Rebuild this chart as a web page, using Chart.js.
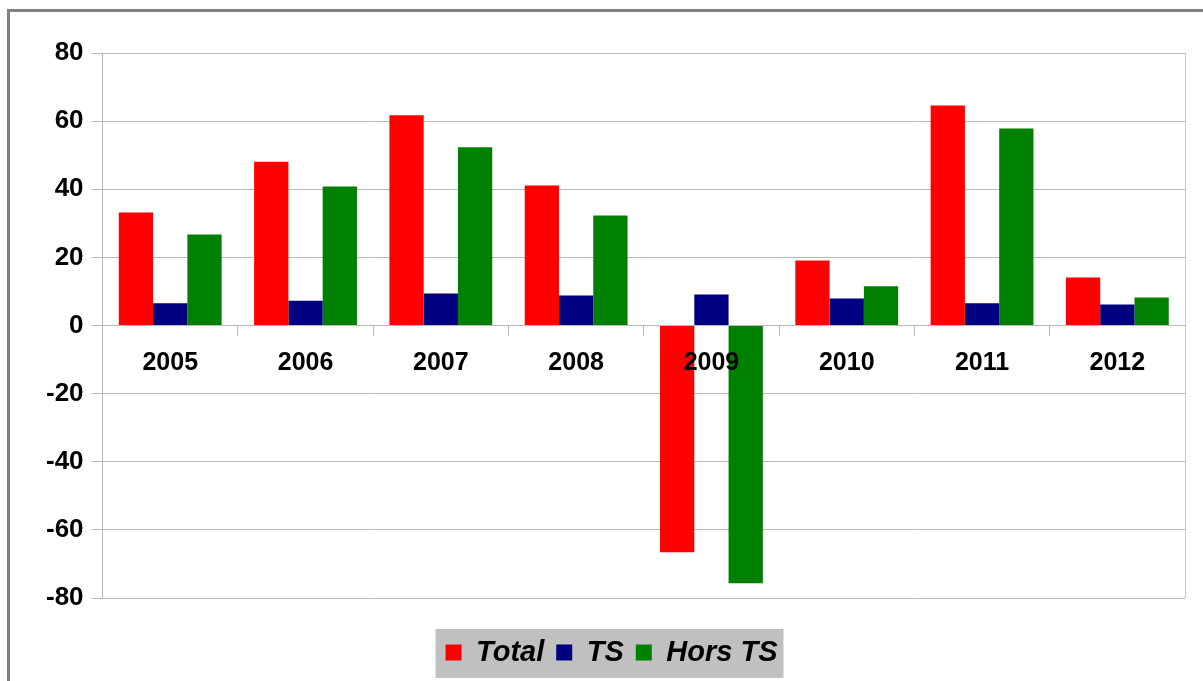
<!DOCTYPE html>
<html>
<head>
<meta charset="utf-8">
<script src="https://cdn.jsdelivr.net/npm/chart.js@4/dist/chart.umd.min.js"></script>
<style>
  html, body { margin: 0; padding: 0; background: #fff; overflow: hidden; }
  #frame {
    position: absolute; left: 7px; top: 9px; width: 1300px; height: 800px;
    border-left: 3px solid #808080; border-top: 3px solid #808080;
  }
  #wrap { position: absolute; left: 0; top: 0; width: 1203px; height: 681px; }
</style>
</head>
<body>
<div id="frame"></div>
<div id="wrap"><canvas id="chart"></canvas></div>
<script>
const years = ['2005', '2006', '2007', '2008', '2009', '2010', '2011', '2012'];
const total = [33.2, 48.1, 61.7, 41.1, -66.6, 19.1, 64.6, 14.1];
const ts = [6.5, 7.3, 9.4, 8.8, 9.1, 7.9, 6.5, 6.2];
const horsTs = [26.7, 40.8, 52.3, 32.3, -75.7, 11.5, 57.8, 8.2];

const gridColor = '#b8b8b8';
const fontFamily = "'Liberation Sans', Arial, sans-serif";

// fond gris derrière la légende + bord droit de la zone de tracé
const decor = {
    id: 'decor',
    beforeDraw(chart) {
        const boxes = chart.legend.legendHitBoxes;
        if (!boxes || !boxes.length) return;
        const ctx = chart.ctx;
        const first = boxes[0];
        const last = boxes[boxes.length - 1];
        ctx.save();
        ctx.fillStyle = '#c0c0c0';
        ctx.fillRect(first.left - 10, first.top - 9, last.left + last.width - first.left + 16, first.height + 20);
        ctx.restore();
    },
    beforeDatasetsDraw(chart) {
        const a = chart.chartArea;
        const ctx = chart.ctx;
        ctx.save();
        ctx.strokeStyle = '#c8c8c8';
        ctx.lineWidth = 1;
        ctx.beginPath();
        ctx.moveTo(Math.round(a.right) + 0.5, a.top);
        ctx.lineTo(Math.round(a.right) + 0.5, a.bottom);
        ctx.stroke();
        ctx.restore();
    }
};

const ctx = document.getElementById('chart').getContext('2d');
new Chart(ctx, {
    type: 'bar',
    data: {
        labels: years,
        datasets: [
            { label: 'Total', data: total, backgroundColor: '#ff0000', borderWidth: 0 },
            { label: 'TS', data: ts, backgroundColor: '#000080', borderWidth: 0 },
            { label: 'Hors TS', data: horsTs, backgroundColor: '#008000', borderWidth: 0 }
        ]
    },
    options: {
        responsive: true,
        maintainAspectRatio: false,
        animation: false,
        layout: { padding: { left: 38, top: 53, right: 18, bottom: 4 } },
        datasets: { bar: { categoryPercentage: 0.76, barPercentage: 1.0 } },
        scales: {
            x: {
                position: { y: 0 },
                grid: { offset: true, drawOnChartArea: false, drawTicks: true, tickLength: 10, color: gridColor },
                border: { display: true, color: gridColor },
                ticks: {
                    z: 1, // étiquettes par-dessus les barres (2009)
                    color: '#000',
                    padding: 13,
                    font: { family: fontFamily, size: 25, weight: 'bold' }
                }
            },
            y: {
                min: -80,
                max: 80,
                grid: { color: gridColor, tickLength: 11 },
                border: { display: true, color: gridColor },
                ticks: {
                    stepSize: 20,
                    color: '#000',
                    padding: 8,
                    font: { family: fontFamily, size: 26, weight: 'bold' }
                }
            }
        },
        plugins: {
            tooltip: { enabled: false },
            legend: {
                position: 'bottom',
                title: { display: true, text: '', font: { size: 10 }, padding: { top: 0, bottom: 16 } },
                labels: {
                    boxWidth: 16,
                    boxHeight: 16,
                    padding: 12,
                    color: '#000',
                    font: { family: fontFamily, size: 29, weight: 'bold', style: 'italic' }
                }
            }
        }
    },
    plugins: [decor]
});
</script>
</body>
</html>
